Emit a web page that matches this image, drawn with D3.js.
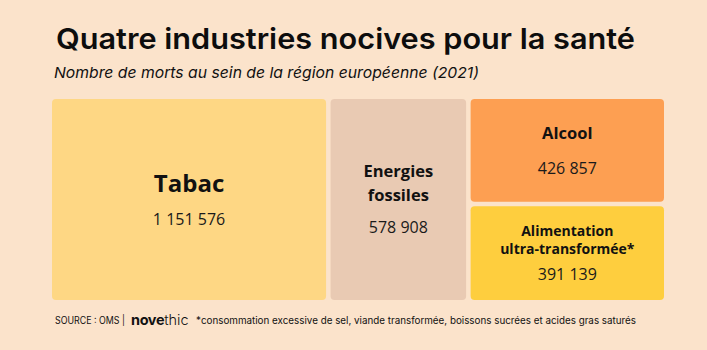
<!DOCTYPE html>
<html>
<head>
<meta charset="utf-8">
<script src="https://cdn.jsdelivr.net/npm/d3@7"></script>
<style>
  body { margin: 0; background: #fbe3cb; }
  svg { display: block; }
</style>
</head>
<body>
<div id="chart"></div>
<script>
// data
const categories = ["Tabac", "Energies fossiles", "Alcool", "Alimentation ultra-transformée*"]
const values = [1151576, 578908, 426857, 391139]
const labelLines = [["Tabac"], ["Energies", "fossiles"], ["Alcool"], ["Alimentation", "ultra-transformée*"]]
const groups = ["Tabac", "Energies fossiles", "Autres", "Autres"] // alcool + alimentation stacked in one column

const title = "Quatre industries nocives pour la santé"
const subtitle = "Nombre de morts au sein de la région européenne (2021)"
const source = "SOURCE : OMS |"
const footnote = "*consommation excessive de sel, viande transformée, boissons sucrées et acides gras saturés"

const width = 707, height = 350
const colors = {
    "Tabac": "#fed784",
    "Energies fossiles": "#e9cab3",
    "Alcool": "#fd9f52",
    "Alimentation ultra-transformée*": "#fece3e"
}
// font size / line height / gap before value, per box
const labelStyle = {
    "Tabac": {fs: 24, lh: 30, gap: 33},
    "Energies fossiles": {fs: 16.5, lh: 24, gap: 32},
    "Alcool": {fs: 16.5, lh: 24, gap: 35},
    "Alimentation ultra-transformée*": {fs: 14, lh: 18, gap: 26}
}

const fmt = v => d3.format(",")(v).replace(/,/g, " ")

const svg = d3.select("#chart").append("svg")
    .attr("width", width)
    .attr("height", height)
    .attr("viewBox", [0, 0, width, height])

svg.append("rect").attr("width", width).attr("height", height).attr("fill", "#fbe3cb")

svg.append("text")
    .attr("x", 56).attr("y", 49)
    .attr("font-family", "Inter, sans-serif")
    .attr("font-weight", 600)
    .attr("font-size", 29)
    .attr("fill", "#0d0d0d")
    .attr("textLength", 579)
    .attr("lengthAdjust", "spacingAndGlyphs")
    .text(title)

svg.append("text")
    .attr("x", 54).attr("y", 78)
    .attr("font-family", "Inter, sans-serif")
    .attr("font-style", "italic")
    .attr("font-size", 15)
    .attr("fill", "#111")
    .attr("textLength", 425)
    .attr("lengthAdjust", "spacingAndGlyphs")
    .text(subtitle)

// treemap: columns side by side, last column split vertically
const tree = d3.rollup(d3.range(categories.length), v => v, i => groups[i])
const rootData = {
    name: "root",
    children: Array.from(tree, ([g, idx]) => idx.length === 1
        ? {name: categories[idx[0]], value: values[idx[0]]}
        : {name: g, children: idx.map(i => ({name: categories[i], value: values[i]}))})
}

const root = d3.hierarchy(rootData).sum(d => d.value || 0)
d3.treemap()
    .tile(d3.treemapSliceDice)
    .size([612, 201])
    .paddingInner(4.5)(root)

const g = svg.append("g").attr("transform", "translate(52,99)")

const leaf = g.selectAll("g.leaf")
    .data(root.leaves())
    .join("g")
    .attr("class", "leaf")

leaf.append("rect")
    .attr("x", d => d.x0)
    .attr("y", d => d.y0)
    .attr("width", d => d.x1 - d.x0)
    .attr("height", d => d.y1 - d.y0)
    .attr("rx", 4)
    .attr("fill", d => colors[d.data.name])

leaf.each(function(d) {
    const i = categories.indexOf(d.data.name)
    const st = labelStyle[d.data.name]
    const lines = labelLines[i]
    const cx = (d.x0 + d.x1) / 2
    const cy = (d.y0 + d.y1) / 2
    const total = 0.72 * st.fs + (lines.length - 1) * st.lh + st.gap
    const b0 = cy - total / 2 + 0.72 * st.fs
    const sel = d3.select(this)
    lines.forEach((l, k) => {
        sel.append("text")
            .attr("x", cx).attr("y", b0 + k * st.lh)
            .attr("text-anchor", "middle")
            .attr("font-family", "'Open Sans', sans-serif")
            .attr("font-weight", 700)
            .attr("font-size", st.fs)
            .attr("fill", "#111")
            .text(l)
    })
    sel.append("text")
        .attr("x", cx).attr("y", b0 + (lines.length - 1) * st.lh + st.gap)
        .attr("text-anchor", "middle")
        .attr("font-family", "'Open Sans', sans-serif")
        .attr("font-size", 16)
        .attr("fill", "#1a1a1a")
        .text(fmt(values[i]))
})

// footer
svg.append("text")
    .attr("x", 55).attr("y", 324)
    .attr("font-family", "Inter, sans-serif")
    .attr("font-size", 10)
    .attr("fill", "#111")
    .attr("textLength", 70)
    .attr("lengthAdjust", "spacingAndGlyphs")
    .text(source)

const logo = svg.append("text")
    .attr("x", 131).attr("y", 325)
    .attr("font-family", "Inter, sans-serif")
    .attr("font-size", 14.5)
    .attr("fill", "#111")
logo.append("tspan").attr("font-weight", 700).attr("letter-spacing", -0.4).text("nove")
logo.append("tspan").attr("font-weight", 300).text("thic")

svg.append("text")
    .attr("x", 196).attr("y", 324)
    .attr("font-family", "Inter, sans-serif")
    .attr("font-size", 10)
    .attr("fill", "#111")
    .attr("textLength", 440)
    .attr("lengthAdjust", "spacingAndGlyphs")
    .text(footnote)
</script>
</body>
</html>
